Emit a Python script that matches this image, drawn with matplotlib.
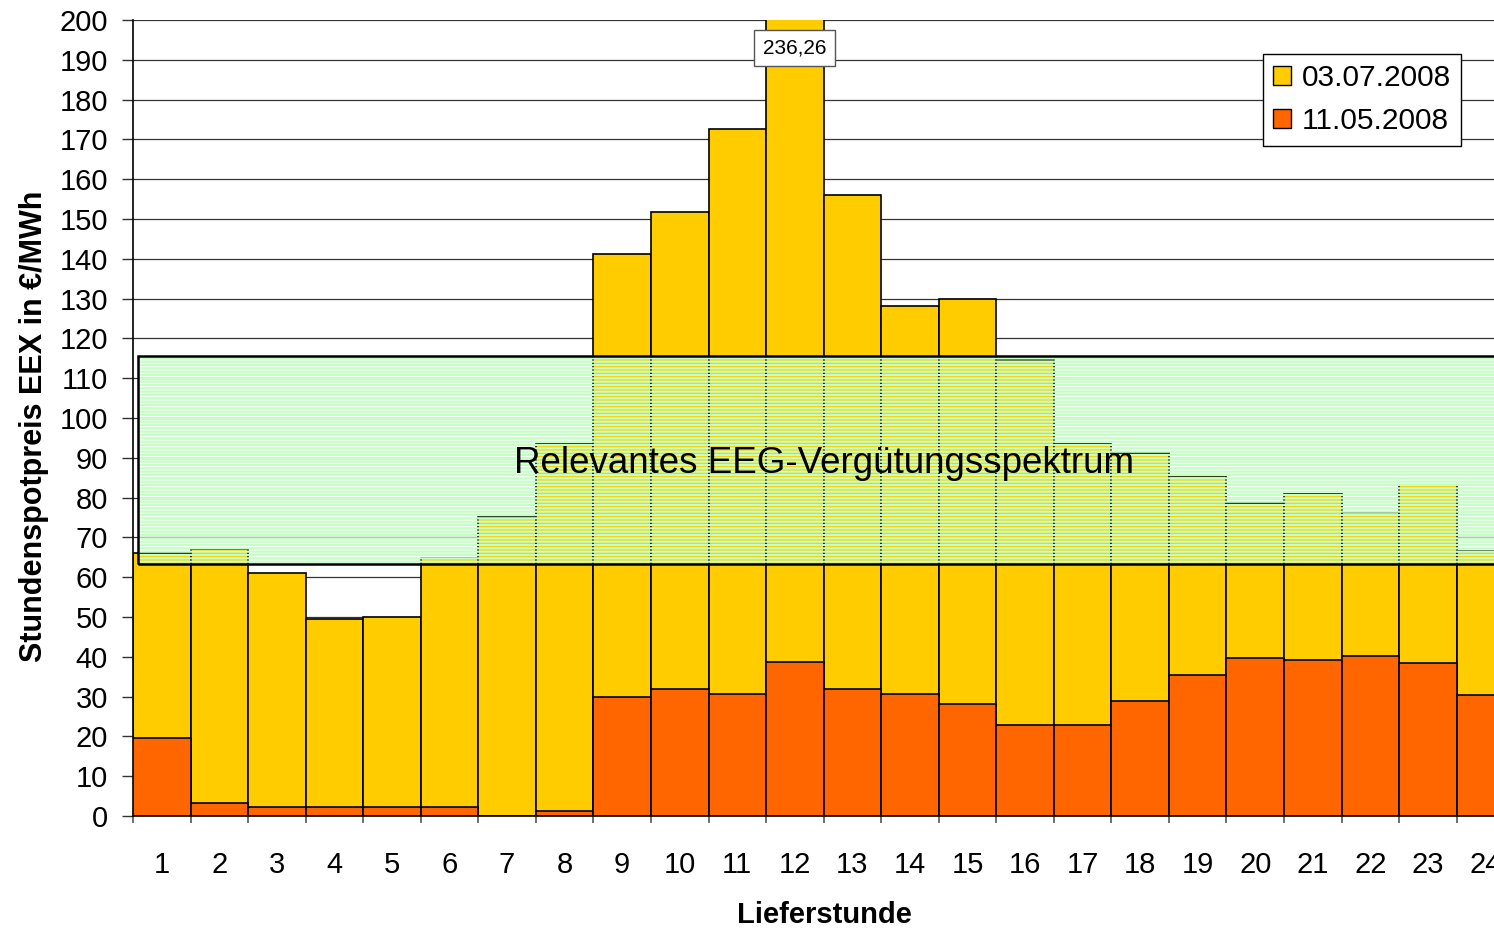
import matplotlib
matplotlib.use("Agg")
import matplotlib.pyplot as plt
import matplotlib.patches as mpatches
import numpy as np

plt.rcParams['font.family'] = ['Liberation Sans', 'DejaVu Sans']
plt.rcParams['hatch.linewidth'] = 1.6

# hourly EEX spot prices in EUR/MWh
hours = np.arange(1, 25)
price_0307 = [66.0, 67.0, 61.1, 49.4, 50.1, 64.7, 75.2, 93.4, 141.1, 151.8, 172.7, 236.26,
              156.0, 128.1, 129.8, 114.5, 93.4, 91.1, 85.4, 78.6, 80.9, 76.4, 83.2, 66.5]
price_1105 = [19.7, 3.35, 2.35, 2.35, 2.35, 2.35, 0.0, 1.25, 30.0, 32.0, 30.65, 38.8,
              32.0, 30.65, 28.2, 22.9, 22.9, 28.8, 35.5, 39.8, 39.1, 40.1, 38.4, 30.5]
labels = ['03.07.2008', '11.05.2008']
eeg_low, eeg_high = 63.2, 115.6
peak_hour = 12

fig = plt.figure(figsize=(14.94, 9.31), dpi=100)
ax = fig.add_axes([133 / 1494, 115 / 931, 1361 / 1494, 796 / 931])

ax.bar(hours, price_0307, width=1.0, color='#FFCC00', edgecolor='black', linewidth=1.2, zorder=2)
ax.bar(hours, price_1105, width=1.0, color='#FF6600', edgecolor='black', linewidth=1.2, zorder=3)

# striped band for the EEG tariff range
band = mpatches.Rectangle((0.59, eeg_low), 30, eeg_high - eeg_low, facecolor='none',
                          edgecolor='#C4FFC4', linewidth=0, hatch='-----', zorder=4)
ax.add_patch(band)
ax.add_patch(mpatches.Rectangle((0.59, eeg_low), 30, eeg_high - eeg_low, facecolor='none',
                                edgecolor='black', linewidth=1.8, zorder=5))
ax.text(12.5, 88.5, 'Relevantes EEG-Vergütungsspektrum', ha='center', va='center',
        fontsize=26.5, zorder=6)

# value label for the clipped peak
ax.text(peak_hour, 193, f'{price_0307[peak_hour - 1]:.2f}'.replace('.', ','), ha='center',
        va='center', fontsize=15, zorder=7,
        bbox=dict(boxstyle='square,pad=0.42', facecolor='white', edgecolor='#555555', linewidth=1))

ax.set_yticks(np.arange(0, 201, 10))
ax.yaxis.grid(True, color='#333333', linewidth=0.9, zorder=0)
ax.set_axisbelow(True)

ax.set_xticks(np.arange(0.5, 24.1, 1.0))
ax.set_xticklabels([])
ax.set_xticks(hours, minor=True)
ax.set_xticklabels([str(h) for h in hours], minor=True)
ax.tick_params(axis='x', which='major', length=5, color='#555555', width=1.2)
ax.tick_params(axis='x', which='minor', length=0, pad=25, labelsize=21)
ax.tick_params(axis='y', length=8, color='#333333', width=1, pad=10, labelsize=21)
ax.set_xlim(0.5, 0.5 + 1361 / 57.55)
ax.set_ylim(0, 200)

for side in ['top', 'right']:
    ax.spines[side].set_visible(False)
ax.spines['left'].set_linewidth(1.2)
ax.spines['bottom'].set_linewidth(1.2)

ax.set_xlabel('Lieferstunde', fontsize=21, fontweight='bold')
ax.set_ylabel('Stundenspotpreis EEX in €/MWh', fontsize=22, fontweight='bold')
ax.xaxis.set_label_coords(0.508, -0.107)
ax.yaxis.set_label_coords(-0.062, 0.489)

handles = [mpatches.Patch(facecolor='#FFCC00', edgecolor='black', linewidth=1),
           mpatches.Patch(facecolor='#FF6600', edgecolor='black', linewidth=1)]
leg = fig.legend(handles, labels, loc='upper left', bbox_to_anchor=(1263 / 1494, 1 - 54 / 931),
                 fontsize=21.5, frameon=True, fancybox=False, edgecolor='black', framealpha=1,
                 handlelength=0.6, handleheight=0.6, handletextpad=0.35, borderpad=0.35,
                 labelspacing=0.5, borderaxespad=0)
leg.get_frame().set_linewidth(1)

fig.savefig('out.png', dpi=100)
